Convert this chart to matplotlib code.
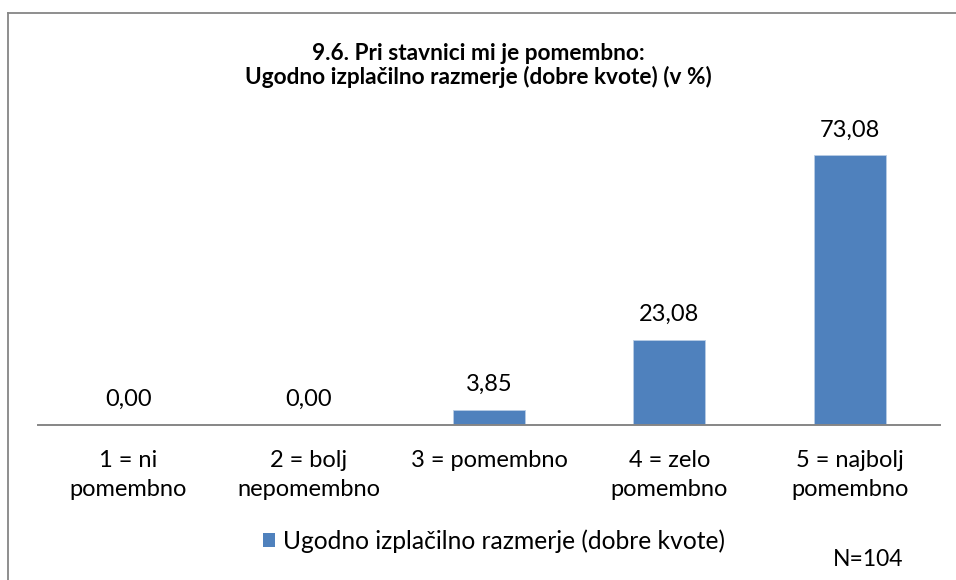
import matplotlib
matplotlib.use("Agg")
from matplotlib import pyplot as plt
from matplotlib.lines import Line2D
from matplotlib.patches import Patch
import numpy as np

plt.rcParams['font.family'] = ['Lato', 'DejaVu Sans']

# Data
categories = ["1 = ni\npomembno", "2 = bolj\nnepomembno", "3 = pomembno",
              "4 = zelo\npomembno", "5 = najbolj\npomembno"]
values = [0.00, 0.00, 3.85, 23.08, 73.08]
series_name = "Ugodno izplačilno razmerje (dobre kvote)"
title = "9.6. Pri stavnici mi je pomembno:\nUgodno izplačilno razmerje (dobre kvote) (v %)"
sample_note = "N=104"

bar_color = "#4F81BD"
axis_gray = "#868686"

fig = plt.figure(figsize=(9.56, 5.8), dpi=100)
ax = fig.add_axes([38 / 956, 155.5 / 580, 902 / 956, 294.5 / 580])

x = np.arange(len(categories))
bars = ax.bar(x, values, width=0.4, color=bar_color, edgecolor="#B9CDE5", linewidth=0.6)

# value labels above each bar
for xi, v in zip(x, values):
    ax.annotate(f"{v:.2f}".replace(".", ","), (xi, v), xytext=(0, 13.7),
                textcoords="offset points", ha="center", va="baseline",
                fontsize=17, color="black")

ax.set_xlim(-0.5, len(categories) - 0.5)
ax.set_ylim(0, 80)
ax.set_xticks(x)
ax.set_xticklabels(categories, fontsize=17, linespacing=1.45)
ax.tick_params(axis="x", length=0, pad=18.5)
ax.set_yticks([])
for side in ["top", "right", "left"]:
    ax.spines[side].set_visible(False)
ax.spines["bottom"].set_color(axis_gray)
ax.spines["bottom"].set_linewidth(1.4)

fig.text(0.5, 1 - 84 / 580, title, ha="center", va="baseline", fontsize=16.3,
         fontweight="bold", linespacing=1.12)

handle = Patch(facecolor=bar_color, edgecolor="none")
fig.legend([handle], [series_name], loc="center", bbox_to_anchor=(494 / 956, 1 - 541 / 580),
           frameon=False, fontsize=17.7, handlelength=0.5, handleheight=0.5,
           handletextpad=0.35, borderpad=0)

fig.text(868 / 956, 1 - 559 / 580, sample_note, ha="center", va="center", fontsize=16.5)

# outer chart frame (left and top edges visible in the crop)
fig.add_artist(Line2D([8 / 956, 8 / 956], [0, 1 - 12.7 / 580], transform=fig.transFigure,
                      color=axis_gray, linewidth=1.3))
fig.add_artist(Line2D([8 / 956, 1], [1 - 12.7 / 580, 1 - 12.7 / 580], transform=fig.transFigure,
                      color=axis_gray, linewidth=1.3))

fig.savefig("out.png", dpi=100)
